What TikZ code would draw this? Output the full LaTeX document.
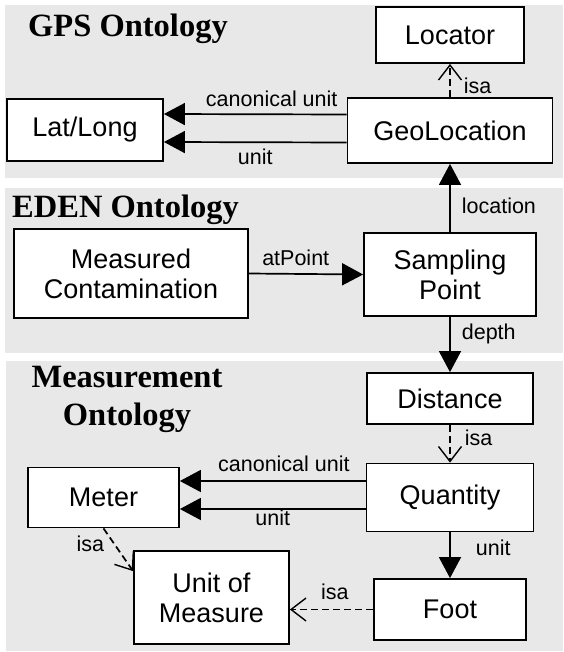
\documentclass[tikz,border=0pt]{standalone}
\usepackage{fontspec}
\setmainfont{Liberation Serif}
\setsansfont{Liberation Sans}
\usepackage{xcolor}
\usepackage{tikz}
\usetikzlibrary{arrows.meta,positioning}
\definecolor{panelgray}{gray}{0.91}

\begin{document}
\begin{tikzpicture}[
  x=1pt, y=-1pt,
  box/.style={draw, line width=1.8pt, fill=white, align=center, inner sep=0pt,
    font=\sffamily\fontsize{27}{30}\selectfont},
  rel/.style={inner sep=1pt, font=\sffamily\fontsize{21.5}{24}\selectfont},
  title/.style={inner sep=0pt, align=center, font=\bfseries\fontsize{32.5}{38}\selectfont},
  arrow/.style={-{Triangle[length=21pt,width=22pt]}, line width=1.7pt},
  isaarrow/.style={-{Straight Barb[length=15pt,width=23pt,line width=1.4pt]}, line width=1.7pt,
    dash pattern=on 7pt off 4pt}
]
\useasboundingbox (0,0) rectangle (563,652);
% ontology panels
\fill[panelgray] (5,5) rectangle (563,178);
\fill[panelgray] (5,188) rectangle (563,353);
\fill[panelgray] (6,361) rectangle (563,651);

\node[title, anchor=base west] (gpst) at (28,37) {GPS Ontology};
\node[title, anchor=base west] (edent) at (12,217) {EDEN Ontology};
\node[title, anchor=north] (meast) at (127,366) {Measurement\\Ontology};

% classes
\node[box, minimum width=148pt, minimum height=56pt] (loc) at (450,35) {Locator};
\node[box, minimum width=156pt, minimum height=62pt] (lat) at (85,130) {Lat/Long};
\node[box, minimum width=205pt, minimum height=65pt] (geo) at (450,130.5) {GeoLocation};
\node[box, minimum width=234pt, minimum height=89pt] (mc) at (131,273.5) {Measured\\Contamination};
\node[box, minimum width=172pt, minimum height=83pt] (sp) at (450,274.5) {Sampling\\Point};
\node[box, minimum width=166pt, minimum height=51pt] (dist) at (450,398.5) {Distance};
\node[box, minimum width=167pt, minimum height=68pt] (qty) at (450,497.5) {Quantity};
\node[box, minimum width=151pt, minimum height=60pt] (meter) at (103.5,497.5) {Meter};
\node[box, minimum width=155pt, minimum height=93pt] (uom) at (211.5,597.5) {Unit of\\Measure};
\node[box, minimum width=152pt, minimum height=61pt] (foot) at (450,609.5) {Foot};

% relations
\draw[arrow] ([yshift=16pt]geo.west) -- ([yshift=16pt]lat.east)
  node[rel, pos=0.41, above=6pt] {canonical unit};
\draw[arrow] ([yshift=-12pt]geo.west) -- ([yshift=-12pt]lat.east)
  node[rel, pos=0.5, below=5pt] {unit};
\draw[arrow] (mc.east) -- (sp.west) node[rel, pos=0.41, above=6pt] {atPoint};
\foreach \a/\b/\t/\p/\d in {sp/geo/location/0.39/10pt, sp/dist/depth/0.3/10pt, qty/foot/unit/0.34/24pt}
  \draw[arrow] (\a) -- (\b) node[rel, pos=\p, right=\d] {\t};
\draw[arrow] ([yshift=16.5pt]qty.west) -- ([yshift=16.5pt]meter.east)
  node[rel, pos=0.44, above=7pt] {canonical unit};
\draw[arrow] ([yshift=-11.5pt]qty.west) -- ([yshift=-11.5pt]meter.east)
  node[rel, pos=0.5, below=-1pt] {unit};

% isa links
\draw[isaarrow] (geo) -- (loc) node[rel, pos=0.34, right=12pt] {isa};
\draw[isaarrow] (dist) -- (qty) node[rel, pos=0.35, right=13pt] {isa};
\draw[isaarrow] (foot.west) -- (foot.west -| uom.east) node[rel, pos=0.46, above=8pt] {isa};
\draw[isaarrow] (meter.south) -- ([yshift=-21pt]uom.north west) node[rel, pos=0.35, left=8pt] {isa};
\end{tikzpicture}
\end{document}
